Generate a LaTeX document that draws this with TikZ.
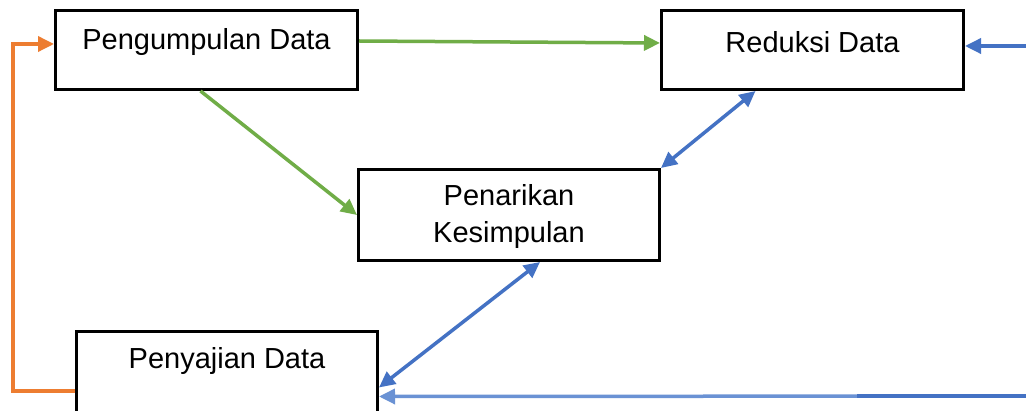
\documentclass[tikz,border=0pt]{standalone}
\usepackage{fontspec}
\setmainfont{Liberation Sans}
\usetikzlibrary{arrows.meta}
\definecolor{cblue}{HTML}{4472C4}
\definecolor{lblue}{HTML}{6A92D4}
\definecolor{cgreen}{HTML}{70AD47}
\definecolor{corange}{HTML}{ED7D31}
\begin{document}
\begin{tikzpicture}[x=1pt,y=-1pt,
  box/.style={draw=black,line width=3pt,fill=white,inner sep=0pt},
  lbl/.style={font=\fontsize{29}{37}\selectfont,align=center},
  tip/.style={-{Triangle[length=16pt,width=15pt]}},
  tips/.style={{Triangle[length=16pt,width=15pt]}-{Triangle[length=16pt,width=15pt]}},
  conn/.style={line width=3.5pt}]
\useasboundingbox (0,0) rectangle (1026,411);
\clip (0,0) rectangle (1026,411);
\fill[white] (0,0) rectangle (1026,411);
\node[box,minimum width=302pt,minimum height=79pt,label={[lbl,yshift=8pt]center:Pengumpulan Data}] (P) at (206.5,50) {};
\node[box,minimum width=302pt,minimum height=79pt,label={[lbl,yshift=8pt]center:Reduksi Data}] (R) at (812.5,50) {};
\node[box,minimum width=301pt,minimum height=91pt,label={[lbl,yshift=-2pt]center:Penarikan\\Kesimpulan}] (K) at (509,215) {};
\node[box,minimum width=301pt,minimum height=100pt,label={[lbl,yshift=20pt]center:Penyajian Data}] (S) at (227,381.5) {};
\coordinate (rin) at (1030,46);
\coordinate (bin) at (1030,396);
\coordinate (o1) at (13,391);
\coordinate (o2) at (13,44);
% green
\draw[conn,cgreen,tip] ([yshift=9pt]P.east) -- ([yshift=7pt]R.west);
\draw[conn,cgreen,tip] ([xshift=-6pt]P.south) -- (K.west);
% blue
\draw[conn,cblue,tips] ([xshift=-57pt]R.south) -- (K.north east);
\draw[conn,cblue,tips] ([xshift=31pt]K.south) -- ([yshift=-6pt]S.east);
\draw[conn,cblue,tip] (rin) -- ([yshift=4pt]R.east);
\draw[conn,lblue,tip] (bin) -- ([yshift=-15pt]S.east);
\draw[conn,cblue] (bin) -- (857,396);
% orange
\draw[conn,corange,tip] ([yshift=-9.5pt]S.west) -- (o1) -- (o2) -- ([yshift=6pt]P.west);
\end{tikzpicture}
\end{document}
